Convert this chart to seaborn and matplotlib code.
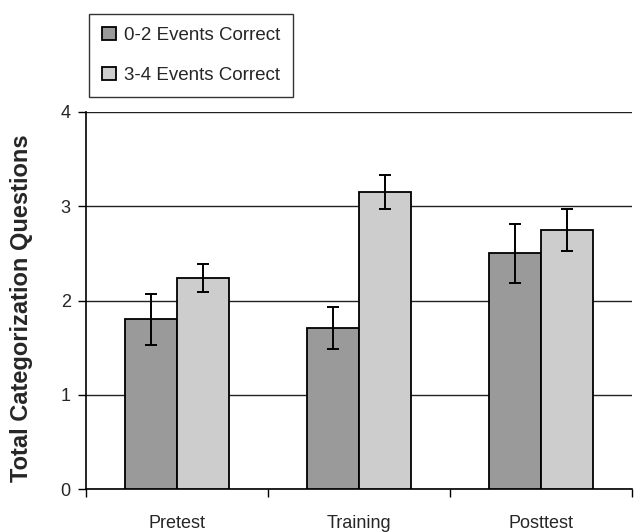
import matplotlib
matplotlib.use("Agg")
import matplotlib.pyplot as plt
import seaborn as sns
import pandas as pd
import numpy as np
from matplotlib.ticker import FixedLocator

categories = ["Pretest", "Training", "Posttest"]
groups = ["0-2 Events Correct", "3-4 Events Correct"]
low_means = [1.80, 1.71, 2.50]
high_means = [2.24, 3.15, 2.75]
low_err = [0.27, 0.22, 0.31]
high_err = [0.15, 0.18, 0.225]
colors = ["#999a99", "#cdcdcd"]

sns.set_style("white")
plt.rcParams["font.family"] = ["Liberation Sans", "DejaVu Sans"]

df = pd.DataFrame({
    "phase": categories * 2,
    "group": [groups[0]] * 3 + [groups[1]] * 3,
    "value": low_means + high_means,
})

fig = plt.figure(figsize=(6.36, 5.32), dpi=100)
ax = fig.add_axes([86 / 636, 1 - 489 / 532, (632 - 86) / 636, (489 - 112) / 532])

sns.barplot(data=df, x="phase", y="value", hue="group", order=categories,
            hue_order=groups, palette=colors, edgecolor="black", linewidth=1.3,
            errorbar=None, width=0.566, gap=0, ax=ax, zorder=3)

errs = [low_err, high_err]
for cont, err in zip(ax.containers, errs):
    xs = [p.get_x() + p.get_width() / 2 for p in cont.patches]
    ys = [p.get_height() for p in cont.patches]
    ax.errorbar(xs, ys, yerr=err, fmt="none", ecolor="black", elinewidth=1.4,
                capsize=4, capthick=1.4, zorder=4)

ax.set_xlim(-0.5, 2.5)
ax.set_ylim(0, 4)
ax.set_yticks([0, 1, 2, 3, 4])
ax.yaxis.grid(True, color="#222222", linewidth=1.0, zorder=0)
ax.set_axisbelow(True)
ax.tick_params(axis="y", which="major", direction="out", length=6, width=1,
               color="black", labelsize=13, pad=5, left=True)
ax.xaxis.set_minor_locator(FixedLocator([-0.5, 0.5, 1.5, 2.5]))
ax.tick_params(axis="x", which="minor", direction="out", length=6, width=1,
               color="black", bottom=True)
ax.tick_params(axis="x", which="major", length=0, labelsize=13, pad=19)

for s in ["top", "right"]:
    ax.spines[s].set_visible(False)
for s in ["left", "bottom"]:
    ax.spines[s].set_color("black")
    ax.spines[s].set_linewidth(1.2)

ax.set_xlabel("")
ax.set_ylabel("Total Categorization Questions", fontsize=17, fontweight="bold")
ax.yaxis.set_label_coords(-0.097, 0.48)

handles, labels = ax.get_legend_handles_labels()
if ax.get_legend() is not None:
    ax.get_legend().remove()
leg = fig.legend(handles, labels, loc="upper left",
                 bbox_to_anchor=(89 / 636, 1 - 14 / 532),
                 bbox_transform=fig.transFigure, borderaxespad=0,
                 fontsize=13.5, frameon=True, fancybox=False, edgecolor="black",
                 handlelength=0.72, handleheight=0.72, handletextpad=0.45,
                 labelspacing=1.2, borderpad=0.7)
leg.get_frame().set_linewidth(1.0)

fig.savefig("out.png", dpi=100)
